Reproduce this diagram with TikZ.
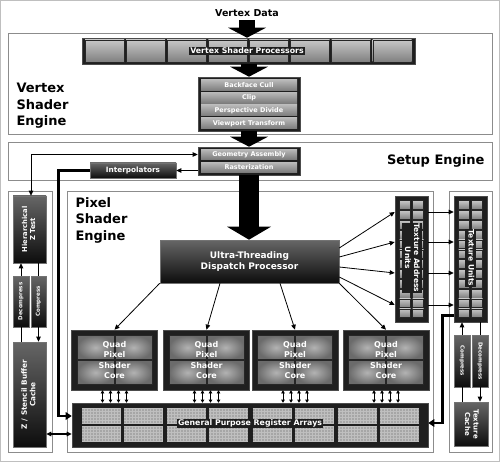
\documentclass[tikz,border=0pt]{standalone}
\usepackage{fontspec}
\setmainfont{DejaVu Sans}
\usepackage{tikz}
\usetikzlibrary{calc}
\usetikzlibrary{positioning}
\usetikzlibrary{arrows.meta}
\newcommand{\sidetext}[2]{\rotatebox{#1}{\begin{tabular}{@{}c@{}}#2\end{tabular}}}
\newcommand{\fsz}[2]{\bfseries\fontsize{#1}{#2}\selectfont}

\begin{document}
\begin{tikzpicture}[x=1pt,y=-1pt]
\tikzstyle{engine}=[rectangle,draw=black!45,line width=0.9pt,fill=white,inner sep=0pt]
\tikzstyle{shell}=[rectangle,draw=black!70,line width=0.6pt,fill=black!88,inner sep=0pt]
\tikzstyle{darkbox}=[rectangle,draw=black!55,line width=0.6pt,top color=black!60,bottom color=black!95,text=white,inner sep=0pt,align=center]
\tikzstyle{cell}=[rectangle,draw=black!85,line width=0.3pt,top color=black!22,bottom color=black!50,inner sep=0pt]
\tikzstyle{stage}=[rectangle,top color=black!28,bottom color=black!52,text=white,inner sep=0pt,minimum width=96pt,font=\fsz{6.5}{7.5}]
\tikzstyle{tag}=[rectangle,fill=black!88,text=white,inner sep=1pt]
\tikzstyle{heading}=[align=left,font=\fsz{13}{16.5}]
\tikzstyle{link}=[line width=0.8pt,-{Triangle[length=5pt,width=4.5pt]}]
\tikzstyle{dlink}=[line width=0.8pt,{Triangle[length=5pt,width=4.5pt]}-{Triangle[length=5pt,width=4.5pt]}]
\tikzstyle{wire}=[line width=0.8pt]
\tikzstyle{bus}=[line width=2.6pt,-{Triangle[length=6pt,width=8pt,line width=0pt]}]
\tikzstyle{biglink}=[line width=16pt,-{Triangle[length=10pt,width=38pt,line width=0pt]}]
\useasboundingbox (0,0) rectangle (500,462);
\draw[black!25] (0.5,0.5) rectangle (499.5,461.5);

% engines
\node[engine,minimum width=484pt,minimum height=101pt] (vse) at(250,83.5) {};
\node[engine,minimum width=484pt,minimum height=38pt] (se) at(250,161) {};
\node[engine,minimum width=44pt,minimum height=261pt] (zcol) at(30,321.5) {};
\node[engine,minimum width=366pt,minimum height=261pt] (pse) at(250,321.5) {};
\node[engine,minimum width=43pt,minimum height=261pt] (tcol) at(470.5,321.5) {};
\node[heading,anchor=west] (vsetitle) at(13,106) {Vertex\\Shader\\Engine};
\node[heading,anchor=west] (psetitle) at(72,220) {Pixel\\Shader\\Engine};
\node[heading,anchor=east] (setitle) at(488,161) {Setup Engine};
\node[font=\fsz{9.5}{11}] (vdata) at(247,13) {Vertex Data};

% vertex shader
\node[shell,minimum width=333pt,minimum height=26pt] (vsp) at(248.5,51) {};
\foreach \i in {0,...,7}
  \node[cell,minimum width=39pt,minimum height=22pt] (vspc\i) at({104.5+41.1*\i},51) {};
\node[tag,font=\fsz{7.8}{9}] (vsplabel) at(247,51) {Vertex Shader Processors};
\node[shell,minimum width=102pt,minimum height=54pt] (vstack) at(249,104) {};
\foreach \t/\y [count=\i] in {Backface Cull/85.5,Clip/98,Perspective Divide/110.5,Viewport Transform/123.5}
  \node[stage,minimum height=11pt] (vs\i) at(249,\y) {\t};

% setup
\node[shell,minimum width=102pt,minimum height=28pt] (setupstack) at(249,161) {};
\node[stage,minimum height=10pt] (geo) at(249,154.5) {Geometry Assembly};
\node[stage,minimum height=10pt] (rast) at(249,167.5) {Rasterization};
\node[darkbox,minimum width=86pt,minimum height=15pt,font=\fsz{7.3}{8}] (interp) at(133,170.5) {Interpolators};

% pixel shader
\node[darkbox,minimum width=179pt,minimum height=43pt,font=\fsz{9}{11}] (ut) at(249.5,261.5) {Ultra-Threading\\Dispatch Processor};
\foreach \x [count=\i] in {114.5,206.5,295,386} {
  \node[shell,minimum width=86pt,minimum height=60pt] (q\i) at(\x,360) {};
  \foreach \a/\b [count=\j] in {-19/-12.5,19/-12.5,-19/12.5,19/12.5}
    \node[cell,inner color=black!30,outer color=black!58,minimum width=37pt,minimum height=24pt] (qc\i\j) at({\x+\a},{360+\b}) {};
  \node[align=center,text=white,font=\fsz{8}{10.5}] (qt\i) at(\x,360) {Quad\\Pixel\\Shader\\Core};
}
\node[shell,minimum width=356pt,minimum height=44pt] (gpra) at(250,425) {};
\foreach \p in {0,...,3}
  \foreach \c in {0,1}
    \foreach \r in {0,1} {
      \fill[black!35] ({82+85.3*\p+42*\c},{408+18*\r}) rectangle ++(39,15);
      \draw[white!75!black,line width=0.3pt,step=3pt] ({82+85.3*\p+42*\c},{408+18*\r}) grid ++(39,15);
    }
\node[tag,font=\fsz{7.8}{9}] (gpralabel) at(250,423.5) {General Purpose Register Arrays};

% texture
\node[shell,minimum width=33pt,minimum height=126pt] (tau) at(411.5,259) {};
\node[shell,minimum width=33pt,minimum height=126pt] (tu) at(470.5,259) {};
\foreach \n/\x in {tau/411.5,tu/470.5}
  \foreach \r in {0,...,11}
    \foreach \c/\d in {a/-6.5,b/6.5}
      \node[cell,minimum width=11pt,minimum height=8.6pt] (\n\c\r) at({\x+\d},{204.9+9.83*\r}) {};
\node[tag,font=\fsz{7.5}{9}] (taulabel) at(411.5,258) {\sidetext{-90}{Texture Address\\Units}};
\node[tag,font=\fsz{7.5}{9}] (tulabel) at(470.5,258) {\sidetext{-90}{Texture Units}};
\node[darkbox,minimum width=16pt,minimum height=52pt,font=\fsz{5.5}{6.5}] (compr) at(462,361) {\sidetext{-90}{Compress}};
\node[darkbox,minimum width=16pt,minimum height=52pt,font=\fsz{5.5}{6.5}] (decr) at(480,361) {\sidetext{-90}{Decompress}};
\node[darkbox,minimum width=34pt,minimum height=44pt,font=\fsz{7}{8.5}] (tc) at(471,424) {\sidetext{-90}{Texture\\Cache}};

% z column
\node[darkbox,minimum width=33pt,minimum height=67pt,font=\fsz{6.8}{8}] (hz) at(29.5,229.5) {\sidetext{90}{Hierarchical\\Z Test}};
\node[darkbox,minimum width=16pt,minimum height=51pt,font=\fsz{5.5}{6.5}] (decl) at(21,301.5) {\sidetext{90}{Decompress}};
\node[darkbox,minimum width=15pt,minimum height=51pt,font=\fsz{5.5}{6.5}] (compl) at(38.5,301.5) {\sidetext{90}{Compress}};
\node[darkbox,minimum width=33pt,minimum height=105pt,font=\fsz{7.3}{8.5}] (zs) at(29.5,394.5) {\sidetext{90}{Z / Stencil Buffer\\Cache}};

% big arrows
\draw[biglink] (vdata) -- (vdata |- vsp.north);
\draw[biglink] (vsp.south -| vstack) -- (vstack.north);
\draw[biglink] (vstack.south) -- (vstack.south |- setupstack.north);
\draw[biglink,line width=20pt,-{Triangle[length=13pt,width=44pt,line width=0pt]}] (setupstack.south) -- (setupstack.south |- ut.north);

% links
\draw[dlink] ([xshift=1.5pt]hz.north) |- (setupstack.west |- geo);
\draw[link] (setupstack.west |- interp) -- (interp.east);
\draw[bus] (interp.west) -| ([xshift=-13pt,yshift=9pt]gpra.west) -- ([yshift=9pt]gpra.west);
\draw[dlink,line width=1.2pt] ([yshift=-9pt]gpra.west -| zs.east) -- ([yshift=-9pt]gpra.west);
\draw[bus] ([yshift=7pt]tu.south west) -| ([xshift=14pt,yshift=2pt]gpra.east) -- ([yshift=2pt]gpra.east);
\draw[link] (decl.north) -- (decl.north |- hz.south);
\draw[wire] (compl.north) -- (compl.north |- hz.south);
\draw[link] (compl.south) -- (compl.south |- zs.north);
\draw[wire] (decl.south) -- (decl.south |- zs.north);
\draw[link] (compr.north) -- (compr.north |- tu.south);
\draw[wire] (decr.north) -- (decr.north |- tu.south);
\draw[link] (decr.south) -- (decr.south |- tc.north);
\draw[wire] (compr.south) -- (compr.south |- tc.north);
\draw[link] (ut.south west) -- (q1.north);
\draw[link] ([xshift=-29.5pt]ut.south) -- (q2.north);
\draw[link] ([xshift=30.5pt]ut.south) -- (q3.north);
\draw[link] (ut.south east) -- (q4.north);
\foreach \a/\b in {13.5/47,4.5/17,-5.5/-14,-15.5/-46}
  \draw[link] ([yshift=\a pt]ut.east) -- ([yshift=\b pt]tau.west);
\foreach \b in {47,17,-14,-46}
  \draw[link] ([yshift=\b pt]tau.east) -- ([yshift=\b pt]tu.west);
\foreach \i in {1,...,4}
  \foreach \d in {-12,-4,4,12}
    \draw[dlink,line width=0.6pt,{Triangle[length=3pt,width=3.5pt]}-{Triangle[length=3pt,width=3.5pt]}] ([xshift=\d pt]q\i.south) -- ([xshift=\d pt]q\i.south |- gpra.north);
\end{tikzpicture}
\end{document}
